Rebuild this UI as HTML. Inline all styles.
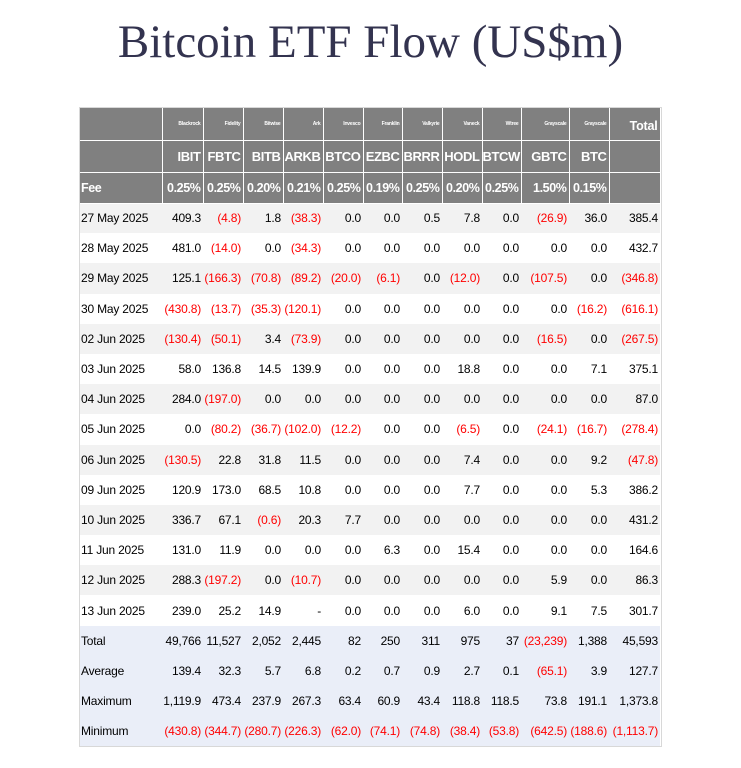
<!DOCTYPE html>
<html><head><meta charset="utf-8"><style>
body{margin:0;width:741px;height:768px;background:#fff;font-family:"Liberation Sans",Arial,sans-serif;position:relative;overflow:hidden}
h1{position:absolute;left:0;width:741px;top:12px;margin:0;text-align:center;font-family:"Liberation Serif",serif;font-weight:normal;font-size:47px;color:#33334f;line-height:60px}
table{position:absolute;left:80px;top:108px;border-collapse:collapse;table-layout:fixed;width:580px;font-size:12px;outline:1px solid #d8d8d8}
td{padding:0 2px 0 0;text-align:right;white-space:nowrap;overflow:hidden;height:30.2px;box-sizing:border-box;letter-spacing:-0.2px}
td:first-child{text-align:left;padding-left:1px}
tr.h td{background:#808080;color:#fff;font-weight:bold;border-right:1px solid #fff;border-bottom:1px solid #fff}
tr.h1 td{height:32px;font-size:5px;vertical-align:middle}
tr.h1 td.tot{font-size:12.5px;vertical-align:top;padding-top:11px}
tr.h2 td{height:32px;font-size:13px;letter-spacing:-0.4px}
tr.h3 td{height:31px;font-size:12.5px;letter-spacing:-0.4px}
tr.g td{background:#f2f2f2}
tr.s td{background:#eaeef8}
.n{color:#f00}
</style></head><body>
<h1>Bitcoin ETF Flow (US$m)</h1>
<table id="t">
<colgroup><col style="width:82px"><col style="width:41px"><col style="width:40px"><col style="width:40px"><col style="width:40px"><col style="width:40px"><col style="width:39px"><col style="width:40px"><col style="width:40px"><col style="width:39px"><col style="width:48px"><col style="width:40px"><col style="width:51px"></colgroup>
<tbody id="tb"></tbody></table>
<script>
const issuers=["Blackrock","Fidelity","Bitwise","Ark","Invesco","Franklin","Valkyrie","Vaneck","Wtree","Grayscale","Grayscale"];
const tickers=["IBIT","FBTC","BITB","ARKB","BTCO","EZBC","BRRR","HODL","BTCW","GBTC","BTC"];
const fees=["0.25%","0.25%","0.20%","0.21%","0.25%","0.19%","0.25%","0.20%","0.25%","1.50%","0.15%"];
const dates=["27 May 2025","28 May 2025","29 May 2025","30 May 2025","02 Jun 2025","03 Jun 2025","04 Jun 2025","05 Jun 2025","06 Jun 2025","09 Jun 2025","10 Jun 2025","11 Jun 2025","12 Jun 2025","13 Jun 2025"];
const flows=[
["409.3","(4.8)","1.8","(38.3)","0.0","0.0","0.5","7.8","0.0","(26.9)","36.0","385.4"],
["481.0","(14.0)","0.0","(34.3)","0.0","0.0","0.0","0.0","0.0","0.0","0.0","432.7"],
["125.1","(166.3)","(70.8)","(89.2)","(20.0)","(6.1)","0.0","(12.0)","0.0","(107.5)","0.0","(346.8)"],
["(430.8)","(13.7)","(35.3)","(120.1)","0.0","0.0","0.0","0.0","0.0","0.0","(16.2)","(616.1)"],
["(130.4)","(50.1)","3.4","(73.9)","0.0","0.0","0.0","0.0","0.0","(16.5)","0.0","(267.5)"],
["58.0","136.8","14.5","139.9","0.0","0.0","0.0","18.8","0.0","0.0","7.1","375.1"],
["284.0","(197.0)","0.0","0.0","0.0","0.0","0.0","0.0","0.0","0.0","0.0","87.0"],
["0.0","(80.2)","(36.7)","(102.0)","(12.2)","0.0","0.0","(6.5)","0.0","(24.1)","(16.7)","(278.4)"],
["(130.5)","22.8","31.8","11.5","0.0","0.0","0.0","7.4","0.0","0.0","9.2","(47.8)"],
["120.9","173.0","68.5","10.8","0.0","0.0","0.0","7.7","0.0","0.0","5.3","386.2"],
["336.7","67.1","(0.6)","20.3","7.7","0.0","0.0","0.0","0.0","0.0","0.0","431.2"],
["131.0","11.9","0.0","0.0","0.0","6.3","0.0","15.4","0.0","0.0","0.0","164.6"],
["288.3","(197.2)","0.0","(10.7)","0.0","0.0","0.0","0.0","0.0","5.9","0.0","86.3"],
["239.0","25.2","14.9","-","0.0","0.0","0.0","6.0","0.0","9.1","7.5","301.7"]];
const summaryLabels=["Total","Average","Maximum","Minimum"];
const summary=[
["49,766","11,527","2,052","2,445","82","250","311","975","37","(23,239)","1,388","45,593"],
["139.4","32.3","5.7","6.8","0.2","0.7","0.9","2.7","0.1","(65.1)","3.9","127.7"],
["1,119.9","473.4","237.9","267.3","63.4","60.9","43.4","118.8","118.5","73.8","191.1","1,373.8"],
["(430.8)","(344.7)","(280.7)","(226.3)","(62.0)","(74.1)","(74.8)","(38.4)","(53.8)","(642.5)","(188.6)","(1,113.7)"]];
const tb=document.getElementById('tb');
function row(cls,name){const r=document.createElement('tr');r.className=cls;


tb.appendChild(r);return r;}
function cell(r,txt,name,extra){const c=document.createElement('td');c.textContent=txt;if(extra)c.className=extra;
if(txt.startsWith('('))c.classList.add('n');


r.appendChild(c);return c;}
let r=row('h h1','issuer-header-row');cell(r,'','header-blank');
issuers.forEach(s=>cell(r,s,'issuer-label'));cell(r,'Total','total-header','tot');
r=row('h h2','ticker-header-row');cell(r,'','header-blank');
tickers.forEach(s=>cell(r,s,'ticker-label'));cell(r,'','header-blank');
r=row('h h3','fee-row');cell(r,'Fee','fee-label');
fees.forEach(s=>cell(r,s,'fee-value'));cell(r,'','header-blank');
dates.forEach((d,i)=>{r=row(i%2==0?'g':'','flow-row');cell(r,d,'date-label');flows[i].forEach(v=>cell(r,v,'flow-value'));});
summaryLabels.forEach((l,i)=>{r=row('s','summary-row');cell(r,l,'summary-label');summary[i].forEach(v=>cell(r,v,'summary-value'));});
</script>
</body></html>
